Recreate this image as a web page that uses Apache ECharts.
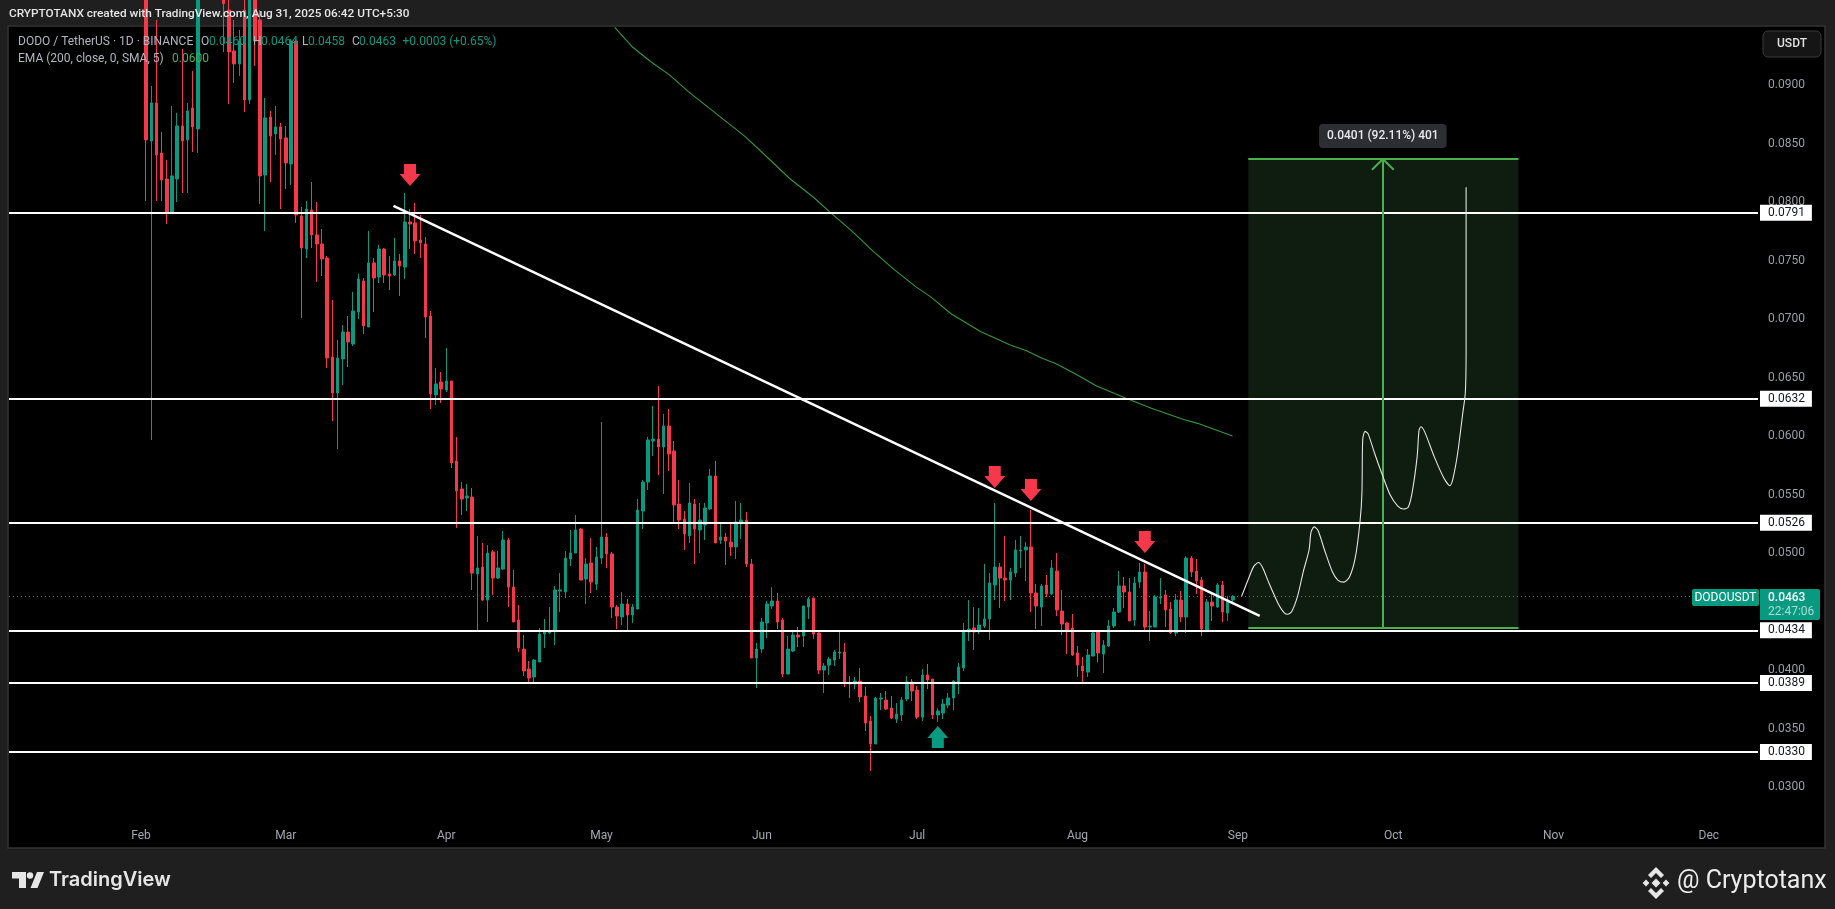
<!DOCTYPE html>
<html><head><meta charset="utf-8">
<style>html,body{margin:0;padding:0;background:#1f1f1f}#c{width:1835px;height:909px}</style>
<script src="https://cdn.jsdelivr.net/npm/echarts@6/dist/echarts.min.js"></script>
</head><body><div id="c"></div>
<script>
const firstDate = '2025-01-07';
const dayCount = 338;
const leadingEmptyDays = 26;
const opens = [
.09817,.08525,.08850,.08422,.08200,.07918,.08200,.08653,.08534,.08807,
.08628,.1005,.0985,.1000,.0980,.1000,.09645,.09295,.09184,.09645,
.08876,.09774,.09560,.08234,.08730,.08585,.08645,.08551,.08328,.09380,
.07884,.07601,.07935,.07721,.07644,.07524,.06678,.06370,.06661,.06891,
.06789,.07062,.07328,.06934,.07482,.07362,.07601,.07388,.07379,.07499,
.07447,.07832,.07824,.07678,.07644,.07028,.06353,.06464,.06395,.06472,
.05788,.05549,.05472,.05480,.04822,.04881,.04599,.05010,.04787,.04864,
.05112,.04710,.04428,.04180,.04009,.03941,.04069,.04308,.04317,.04343,
.04676,.04668,.04950,.05001,.05206,.04779,.04916,.04736,.04958,.05138,
.04993,.04539,.04454,.04565,.04471,.04522,.05360,.05608,.05959,.05976,
.05908,.06087,.05874,.05420,.05292,.05147,.05420,.05198,.05241,.05378,
.05660,.05112,.05138,.05095,.05053,.05258,.05283,.04907,.04103,.04180,
.04403,.04548,.04591,.04428,.03966,.04163,.04300,.04291,.04539,.04616,
.04317,.04000,.04043,.04086,.04146,.04154,.03889,.03881,.03906,.03778,
.03564,.03368,.03753,.03744,.03675,.03581,.03616,.03753,.03898,.03829,
.03598,.03958,.03923,.03616,.03633,.03701,.03761,.03889,.04018,.04326,
.04360,.04343,.04377,.04437,.04728,.04881,.04787,.04770,.04830,.05018,
.05027,.05053,.04659,.04539,.04728,.04651,.04847,.04505,.04403,.04360,
.04146,.04035,.03983,.04120,.04326,.04137,.04206,.04377,.04497,.04719,
.04668,.04428,.04753,.04839,.04368,.04368,.04616,.04642,.04522,.04317,
.04599,.04454,.04958,.04847,.04770,.04343,.04582,.04539,.04728,.04488,
.0460];
const highs = [
.09988,.08995,.09560,.08602,.08363,.08824,.08765,.09312,.08850,.09124,
.09817,.1040,.1010,.1025,.1005,.1015,.09902,.09560,.09474,.09817,
.09902,.09902,.09645,.08893,.08782,.08824,.08679,.08653,.09397,.09397,
.07961,.08012,.08174,.08003,.07772,.07541,.07165,.06823,.06951,.07028,
.07234,.07388,.07353,.07755,.07524,.07636,.07610,.07541,.07695,.07559,
.08080,.07943,.07995,.07892,.07704,.07071,.06584,.06549,.06755,.06472,
.05993,.05608,.05591,.05557,.05147,.05087,.05070,.05027,.05018,.05189,
.05129,.04856,.04557,.04300,.04077,.04095,.04360,.04437,.04539,.04719,
.04830,.05018,.05198,.05326,.05215,.04958,.05129,.05053,.06122,.05172,
.05010,.04557,.04668,.04608,.04565,.05463,.05626,.05993,.06259,.06430,
.06190,.06233,.05959,.05626,.05360,.05600,.05463,.05429,.05429,.05720,
.05788,.05258,.05172,.05249,.05446,.05429,.05352,.04950,.04232,.04445,
.04591,.04710,.04659,.04445,.04291,.04334,.04368,.04548,.04625,.04616,
.04334,.04060,.04112,.04172,.04334,.04231,.03949,.03941,.04018,.03855,
.03607,.03770,.03804,.03821,.03778,.03718,.03770,.03949,.03923,.03864,
.04009,.04052,.03923,.03675,.03753,.03804,.03915,.04060,.04403,.04599,
.04539,.04531,.04907,.04830,.05429,.04916,.05147,.04873,.05112,.05147,
.05095,.05369,.04736,.04736,.04813,.04941,.05001,.04685,.04411,.04480,
.04206,.04112,.04180,.04326,.04326,.04257,.04428,.04531,.04847,.04796,
.04787,.04796,.04916,.04907,.04505,.04642,.04787,.04685,.04582,.04651,
.04676,.04975,.04975,.04950,.04796,.04608,.04659,.04745,.04762,.04633,
.0464];
const lows = [
.08012,.05968,.08012,.08012,.07815,.07918,.08003,.08080,.08080,.08431,
.08422,.0975,.0965,.0970,.0960,.09286,.08842,.09021,.09081,.08773,
.08842,.09167,.07986,.07755,.08174,.08405,.07943,.08114,.08149,.07824,
.07011,.07524,.07610,.07319,.07370,.06584,.06130,.05891,.06438,.06592,
.06772,.07003,.06874,.06934,.07062,.07310,.07310,.07251,.07370,.07199,
.07345,.07601,.07559,.07524,.06840,.06233,.06267,.06284,.06378,.05728,
.05215,.05326,.05360,.04685,.04326,.04591,.04411,.04642,.04779,.04856,
.04539,.04411,.04154,.03949,.03881,.03881,.04069,.04189,.04308,.04214,
.04497,.04616,.04890,.05001,.04770,.04565,.04659,.04685,.04907,.04873,
.04445,.04351,.04385,.04326,.04403,.04522,.05206,.05540,.05831,.05668,
.05506,.05703,.05258,.05206,.05027,.05087,.04907,.05001,.05112,.05369,
.05087,.05078,.04899,.04976,.04950,.05121,.04881,.04103,.03847,.04146,
.04274,.04522,.04351,.03941,.03966,.04154,.04197,.04197,.04437,.04266,
.03966,.03804,.03958,.04035,.04095,.03855,.03761,.03838,.03727,.03479,
.03137,.03368,.03658,.03658,.03581,.03547,.03564,.03735,.03735,.03581,
.03564,.03838,.03581,.03556,.03581,.03675,.03658,.03795,.03992,.04249,
.04172,.04308,.04360,.04257,.04599,.04531,.04591,.04599,.04796,.04873,
.04762,.04497,.04351,.04377,.04625,.04642,.04462,.04300,.04137,.04120,
.03941,.03889,.03941,.04120,.04069,.03975,.04197,.04360,.04488,.04531,
.04420,.04377,.04702,.04326,.04249,.04368,.04565,.04368,.04308,.04291,
.04411,.04317,.04796,.04651,.04291,.04326,.04420,.04531,.04411,.04420,
.0458];
const closes = [
.08534,.08850,.08405,.08191,.07918,.08226,.08653,.08525,.08782,.08645,
.09731,.0985,.1000,.0980,.0990,.0970,.09286,.09184,.09380,.08876,
.09774,.09380,.08226,.08722,.08568,.08645,.08542,.08337,.09380,.07892,
.07610,.07943,.07721,.07644,.07516,.06669,.06370,.06669,.06891,.06806,
.07071,.07345,.06943,.07482,.07353,.07601,.07379,.07370,.07499,.07456,
.07832,.07815,.07670,.07653,.07020,.06361,.06447,.06404,.06472,.05771,
.05532,.05463,.05489,.04830,.04873,.04599,.05001,.04787,.04873,.05112,
.04710,.04411,.04189,.03992,.03932,.04086,.04308,.04326,.04334,.04685,
.04685,.04958,.05001,.05198,.04770,.04907,.04753,.04967,.05138,.04993,
.04539,.04462,.04565,.04471,.04539,.05369,.05608,.05968,.05976,.05908,
.06087,.05848,.05412,.05283,.05164,.05429,.05206,.05283,.05386,.05660,
.05087,.05138,.05104,.05053,.05266,.05283,.04907,.04103,.04180,.04411,
.04565,.04591,.04411,.03966,.04180,.04300,.04283,.04548,.04608,.04308,
.04000,.04035,.04095,.04154,.04154,.03881,.03881,.03906,.03770,.03547,
.03368,.03761,.03761,.03667,.03590,.03624,.03744,.03898,.03821,.03598,
.03958,.03915,.03616,.03650,.03710,.03761,.03906,.04026,.04334,.04351,
.04326,.04385,.04437,.04745,.04881,.04787,.04770,.04839,.05027,.05027,
.05053,.04659,.04548,.04719,.04651,.04873,.04514,.04394,.04334,.04129,
.04043,.03992,.04129,.04317,.04146,.04214,.04377,.04497,.04719,.04668,
.04420,.04745,.04839,.04368,.04377,.04625,.04625,.04514,.04317,.04599,
.04454,.04958,.04839,.04762,.04351,.04582,.04548,.04728,.04497,.04599,
.0463];
const emaDay = [116.56,120.05,123.47,127.13,130.79,134.45,138.11,141.77,146.24,150.31,155.19,158.04,162.51,166.58,170.64,174.71,177.56,181.62,187.32,193.01,196.27,198.70,201.95,205.62,209.68,215.38,220.25,226.36,229.20,235.95];
const emaPrice = [.09497,.09326,.09204,.09090,.08947,.08819,.08690,.08562,.08377,.08206,.08035,.07921,.07750,.07579,.07422,.07279,.07194,.07045,.06894,.06780,.06729,.06675,.06618,.06532,.06430,.06324,.06239,.06145,.06110,.06002];
const sketchDay = [237.70,239.19,240.08,240.98,241.80,242.92,244.78,245.90,246.64,247.39,248.51,249.63,250.74,251.12,251.71,252.46,253.73,255.22,256.34,257.45,258.57,259.69,260.59,260.96,261.11,261.55,262.15,263.42,264.91,266.40,267.89,269.01,269.90,270.65,271.62,271.99,272.36,273.11,274.97,276.84,277.96,278.55,279.45,280.42,280.94,281.09,281.09];
const sketchPrice = [.0463,.04798,.04889,.04920,.04874,.04752,.04568,.04492,.04477,.04501,.0463,.04843,.05027,.05180,.05225,.05195,.05027,.04843,.04767,.04752,.04798,.04966,.05271,.05515,.05974,.06041,.06020,.05852,.05668,.05500,.05402,.05378,.05393,.05515,.05821,.06050,.06081,.06035,.05821,.05638,.05577,.05638,.05852,.06188,.06371,.06737,.08128];
const levels = [.0791,.0632,.0526,.0434,.0389,.0330];
const priceTicks = [.03,.035,.04,.045,.05,.055,.06,.065,.07,.075,.08,.085,.09];
const trendDay = [73.8,241.2];
const trendPrice = [.07969,.04463];
const lastPrice = .0463;
const boxDay = [239,291.2];
const boxPrice = [.0436,.0837];
const arrowDay = 265;
const downMarks = [[77,.08234],[190,.05651],[197,.05540],[219,.05095]];
const upMarks = [[179,.03428]];
const targetTagPrice = .08568;

const GREEN='#089981', RED='#f7374a', FONT='Roboto, "Noto Sans", sans-serif';
const categories=[];
{const d=new Date(firstDate+'T00:00:00Z');for(let i=0;i<dayCount;i++){categories.push(new Date(d.getTime()+i*864e5));}}
const catLabels=categories.map(d=>d.toISOString().slice(0,10));
const monthNames=['Jan','Feb','Mar','Apr','May','Jun','Jul','Aug','Sep','Oct','Nov','Dec'];
const candleData=catLabels.map((c,i)=>{const k=i-leadingEmptyDays;return (k>=0&&k<opens.length)?[opens[k],closes[k],lows[k],highs[k]]:'-';});
const zip=(a,b)=>a.map((v,i)=>[v,b[i]]);
const DOWN='path://M4.5,0 H16.5 V10 H21 L10.5,22 L0,10 H4.5 Z', UP='path://M10.5,0 L21,12 H16.5 V22 H4.5 V12 H0 Z';
const hLine=(v)=>({yAxis:v,lineStyle:{color:'#fff',width:2,type:'solid'},
  label:{show:true,position:'end',distance:2,formatter:v.toFixed(4),color:'#131722',backgroundColor:'#fff',padding:[2,7,2,8],fontFamily:FONT,fontSize:12}});
const seg=(x1,y1,x2,y2,style)=>[{coord:[x1,y1],lineStyle:style},{coord:[x2,y2]}];
const g4={color:'#4caf50',width:2,type:'solid'};

const txt=(x,y,text,fill,font,extra)=>({type:'text',x,y,z:200,silent:true,style:Object.assign({text,fill,font:font||('12px '+FONT),verticalAlign:'middle',align:'left'},extra||{})});
const poly=(points)=>({type:'polygon',z:200,silent:true,shape:{points},style:{fill:'#e6e6e6'}});
const diamond=(cx,cy,r)=>poly([[cx,cy-r],[cx+r,cy],[cx,cy+r],[cx-r,cy]]);

const chart=echarts.init(document.getElementById('c'),null,{renderer:'canvas'});
chart.setOption({
  animation:false,backgroundColor:'#1f1f1f',
  grid:{left:9,top:26,width:1749,height:794,containLabel:false},
  xAxis:[
   {type:'category',data:catLabels,boundaryGap:true,axisLine:{show:false},axisTick:{show:false},splitLine:{show:false},
    axisLabel:{color:'#a3a6af',fontFamily:FONT,fontSize:12,margin:10,hideOverlap:false,
      interval:(i)=>categories[i].getUTCDate()===1,
      formatter:(v)=>monthNames[parseInt(v.slice(5,7),10)-1]}},
   {type:'value',min:-0.5,max:dayCount-0.5,show:false,splitLine:{show:false}}
  ],
  yAxis:{type:'value',position:'right',min:.02718,max:.09508,scale:true,axisLine:{show:false},axisTick:{show:false},splitLine:{show:false},
    axisLabel:{color:'#9a9da6',fontFamily:FONT,fontSize:12,margin:10,padding:[4,0,0,0],customValues:priceTicks,formatter:(v)=>v.toFixed(4)}},
  series:[
   {name:'box',type:'line',xAxisIndex:1,data:[],z:1,silent:true,
    markArea:{silent:true,itemStyle:{color:'#0f1c10'},data:[[{coord:[boxDay[0],boxPrice[0]]},{coord:[boxDay[1],boxPrice[1]]}]]}},
   {name:'DODOUSDT',type:'candlestick',xAxisIndex:0,data:candleData,barWidth:3,z:3,silent:true,
    itemStyle:{color:GREEN,color0:RED,borderColor:GREEN,borderColor0:RED,borderWidth:1}},
   {name:'EMA',type:'line',xAxisIndex:1,data:zip(emaDay,emaPrice),showSymbol:false,silent:true,z:4,lineStyle:{color:'#34983e',width:1.1}},
   {name:'decor',type:'line',xAxisIndex:1,data:[],z:6,silent:true,
    markLine:{silent:true,symbol:'none',precision:6,animation:false,label:{show:false},data:[
      {yAxis:lastPrice,lineStyle:{color:GREEN,width:1,type:[1,3]},label:{show:false}},
      ...levels.map(hLine),
      seg(trendDay[0],trendPrice[0],trendDay[1],trendPrice[1],{color:'#fff',width:2.5,type:'solid'}),
      seg(boxDay[0],boxPrice[1],boxDay[1],boxPrice[1],g4),
      seg(boxDay[0],boxPrice[0],boxDay[1],boxPrice[0],g4),
      seg(arrowDay,boxPrice[0],arrowDay,boxPrice[1],g4),
      seg(arrowDay-2.1,boxPrice[1]-.00092,arrowDay,boxPrice[1],g4),
      seg(arrowDay+2.1,boxPrice[1]-.00092,arrowDay,boxPrice[1],g4)
    ]},
    markPoint:{silent:true,animation:false,data:[
      ...downMarks.map(c=>({coord:c,symbol:DOWN,symbolSize:[21,22],itemStyle:{color:RED},label:{show:false}})),
      ...upMarks.map(c=>({coord:c,symbol:UP,symbolSize:[21,22],itemStyle:{color:GREEN},label:{show:false}})),
      {coord:[arrowDay,targetTagPrice],symbol:'rect',symbolSize:1,itemStyle:{color:'transparent'},
       label:{show:true,position:'inside',formatter:'0.0401 (92.11%) 401',color:'#e8e9ec',fontFamily:FONT,fontSize:12,fontWeight:500,backgroundColor:'#2c2e33',borderRadius:4,padding:[6,8]}}
    ]}},
   {name:'sketch',type:'line',xAxisIndex:1,data:zip(sketchDay,sketchPrice),smooth:0.25,showSymbol:false,silent:true,z:7,lineStyle:{color:'#e4e6e4',width:1.1}}
  ],
  graphic:[
   {type:'rect',z:-5,silent:true,shape:{x:8,y:26,width:1817,height:822},style:{fill:'#000',stroke:'#333',lineWidth:1.5}},
   txt(9,14.5,'CRYPTOTANX created with TradingView.com, Aug 31, 2025 06:42 UTC+5:30','#e6e6e6','500 11.8px '+FONT),
   txt(18,42,'DODO / TetherUS · 1D · BINANCE','#b2b5be'),
   txt(201,42,'O','#b2b5be'),txt(209,42,'0.0460',GREEN),
   txt(253,42,'H','#b2b5be'),txt(261,42,'0.0464',GREEN),
   txt(302,42,'L','#b2b5be'),txt(308,42,'0.0458',GREEN),
   txt(352,42,'C','#b2b5be'),txt(359,42,'0.0463',GREEN),
   txt(402.5,42,'+0.0003 (+0.65%)',GREEN),
   txt(18,59,'EMA (200, close, 0, SMA, 5)','#b2b5be'),
   txt(172,59,'0.0600','#4caf50'),
   {type:'rect',z:200,silent:true,shape:{x:1763,y:31,width:58,height:26,r:5},style:{fill:'#151515',stroke:'#3a3a3a',lineWidth:1}},
   txt(1792,44,'USDT','#e0e0e0','500 12px '+FONT,{align:'center'}),
   {type:'rect',z:200,silent:true,shape:{x:1692,y:589,width:67,height:17,r:2},style:{fill:GREEN}},
   txt(1725.5,597.7,'DODOUSDT','#fff','12px '+FONT,{align:'center'}),
   {type:'rect',z:200,silent:true,shape:{x:1760,y:589,width:60,height:31,r:[0,2,2,0]},style:{fill:GREEN}},
   txt(1768,597.7,'0.0463','#fff','500 12px '+FONT),
   txt(1768,612,'22:47:06','#a9dcd0','12px '+FONT),
   poly([[12,872],[26,872],[26,888],[19,888],[19,878.5],[12,878.5]]),
   poly([[37,872],[44,872],[37.5,888],[30.5,888]]),
   {type:'circle',z:200,silent:true,shape:{cx:30,cy:875.5,r:3.2},style:{fill:'#e6e6e6'}},
   txt(49,880,'TradingView','#e6e6e6','600 20px Inter, '+FONT),
   diamond(1656,883,4.5),diamond(1646,883,3.4),diamond(1666,883,3.4),
   poly([[1656,867],[1664,875],[1661,878],[1656,873],[1651,878],[1648,875]]),
   poly([[1656,899],[1664,891],[1661,888],[1656,893],[1651,888],[1648,891]]),
   txt(1677,882,'@ Cryptotanx','#ececec','25px '+FONT)
  ]
});
</script></body></html>
